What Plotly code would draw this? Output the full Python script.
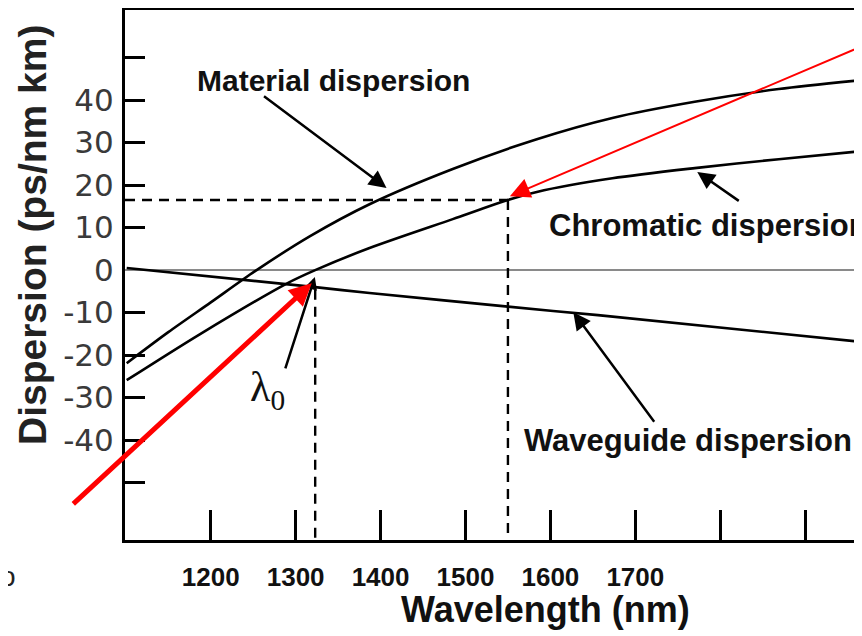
import plotly.graph_objects as go

# ---- data ----
wavelength_material = [1101, 1150, 1200, 1254, 1317, 1387, 1485, 1584, 1673, 1770, 1869, 1967]
material_dispersion = [-21.9, -14.6, -7.6, 0.0, 8.0, 15.5, 23.8, 30.8, 35.8, 39.6, 42.6, 44.7]

wavelength_chromatic = [1101, 1187, 1290, 1323, 1387, 1485, 1550, 1584, 1673, 1770, 1869, 1967]
chromatic_dispersion = [-25.9, -15.1, -3.1, 0.0, 5.2, 12.0, 16.5, 18.4, 21.6, 24.0, 26.1, 28.0]

wavelength_waveguide = [1101, 1323, 1387, 1550, 1656, 1967]
waveguide_dispersion = [0.5, -4.0, -5.4, -8.6, -10.6, -16.9]

lambda_zero = 1323
lambda_operating = 1550
dispersion_operating = 16.5
waveguide_at_lambda_zero = -4.6

x_tick_values = [1200, 1300, 1400, 1500, 1600, 1700, 1800, 1900]
x_tick_labels = ["1200", "1300", "1400", "1500", "1600", "1700", "", ""]
y_tick_values = [-40, -30, -20, -10, 0, 10, 20, 30, 40]
y_tick_labels = ["-40", "-30", "-20", "-10", "0", "10", "20", "30", "40"]
y_minor_tick_values = [-50, -40, -30, -20, -10, 10, 20, 30, 40, 50]

x_range = [1099, 1967]
y_range = [-63.5, 61.2]

LINE = dict(color="black", width=2.6, shape="spline", smoothing=0.8)
DASH = dict(color="black", width=2.4, dash="10px,7px")

fig = go.Figure()
fig.add_trace(go.Scatter(x=wavelength_material, y=material_dispersion, mode="lines",
                         line=LINE, name="Material dispersion"))
fig.add_trace(go.Scatter(x=wavelength_chromatic, y=chromatic_dispersion, mode="lines",
                         line=LINE, name="Chromatic dispersion"))
fig.add_trace(go.Scatter(x=wavelength_waveguide, y=waveguide_dispersion, mode="lines",
                         line=dict(LINE, smoothing=0.3), name="Waveguide dispersion"))
# dashed guide lines
fig.add_trace(go.Scatter(x=[x_range[0], lambda_operating], y=[dispersion_operating, dispersion_operating],
                         mode="lines", line=DASH))
fig.add_trace(go.Scatter(x=[lambda_operating, lambda_operating], y=[dispersion_operating, y_range[0]],
                         mode="lines", line=DASH))
fig.add_trace(go.Scatter(x=[lambda_zero, lambda_zero], y=[waveguide_at_lambda_zero, y_range[0]],
                         mode="lines", line=DASH))

SANS = "Liberation Sans, Arial, sans-serif"
TXT = dict(family=SANS, size=30, color="#111111", weight="bold")

annotations = [
    # text labels
    dict(x=1181, y=44.7, text="Material dispersion", showarrow=False, xanchor="left", yanchor="middle", font=TXT),
    dict(x=1596, y=10.4, text="Chromatic dispersion", showarrow=False, xanchor="left", yanchor="middle",
         font=dict(TXT, size=31)),
    dict(x=1567, y=-40, text="Waveguide dispersion", showarrow=False, xanchor="left", yanchor="middle",
         font=dict(TXT, size=31)),
    dict(x=1267, y=-28.2, text="λ<sub>0</sub>", showarrow=False, xanchor="center", yanchor="middle",
         font=dict(family="Liberation Serif, Times New Roman, serif", size=42, color="#111111")),
    # black pointer arrows
    dict(x=1407, y=19.3, ax=-124, ay=-93, text="", showarrow=True, arrowhead=2, arrowsize=1.4,
         arrowwidth=2.5, arrowcolor="black"),
    dict(x=1773, y=23.1, ax=43, ay=30, text="", showarrow=True, arrowhead=2, arrowsize=1.4,
         arrowwidth=2.5, arrowcolor="black"),
    dict(x=1627, y=-9.9, ax=82, ay=111, text="", showarrow=True, arrowhead=2, arrowsize=1.4,
         arrowwidth=2.5, arrowcolor="black"),
    dict(x=1322.6, y=-1.6, ax=-30, ay=93, text="", showarrow=True, arrowhead=2, arrowsize=1.0,
         arrowwidth=2.5, arrowcolor="black"),
    # red arrows
    dict(x=1319, y=-3.1, ax=-240, ay=222, text="", showarrow=True, arrowhead=2, arrowsize=0.9,
         arrowwidth=5, arrowcolor="#ff0000"),
    dict(x=1552.3, y=17.4, ax=400, ay=-150, text="", showarrow=True, arrowhead=2, arrowsize=2.0,
         arrowwidth=2, arrowcolor="#ff0000"),
    # axis titles
    dict(xref="paper", yref="paper", x=0.57, y=-0.132, text="Wavelength (nm)", showarrow=False,
         xanchor="center", yanchor="middle",
         font=dict(family=SANS, size=36, color="#111111", weight="bold")),
    dict(xref="paper", yref="paper", x=-0.1248, y=0.5755, text="Dispersion (ps/nm km)", showarrow=False,
         textangle=-90, xanchor="center", yanchor="middle",
         font=dict(family=SANS, size=39, color="#222222", weight="bold")),
    # stray letter at the left edge of the slide
    dict(xref="paper", yref="paper", x=-0.145, y=-0.068, text="o", showarrow=False,
         xanchor="right", yanchor="middle",
         font=dict(family=SANS, size=28, color="#222222")),
]

# page body has an 8px default margin, so the figure is sized/offset to compensate
fig.update_layout(
    width=854, height=628,
    margin=dict(l=117, r=0, t=2, b=96),
    paper_bgcolor="white", plot_bgcolor="white",
    showlegend=False,
    annotations=annotations,
    xaxis=dict(
        range=x_range, tickmode="array", tickvals=x_tick_values, ticktext=x_tick_labels,
        ticks="inside", ticklen=30, tickwidth=2.5, tickcolor="black",
        showline=True, linecolor="black", linewidth=3, mirror=True,
        showgrid=False, zeroline=False, ticklabelstandoff=12,
        tickfont=dict(family=SANS, size=26, color="#111111", weight="bold"),
    ),
    yaxis=dict(
        range=y_range, tickmode="array", tickvals=y_tick_values, ticktext=y_tick_labels,
        ticks="inside", ticklen=0, showline=True, linecolor="black", linewidth=3, mirror=False,
        showgrid=False, zeroline=True, zerolinecolor="#8a8a8a", zerolinewidth=2,
        ticklabelstandoff=2,
        tickfont=dict(family="DejaVu Sans, sans-serif", size=31, color="#3a3a3a"),
        minor=dict(tickmode="array", tickvals=y_minor_tick_values, ticks="inside", ticklen=20,
                   tickwidth=2.5, tickcolor="black", showgrid=False),
    ),
)

fig.write_html("out.html")
